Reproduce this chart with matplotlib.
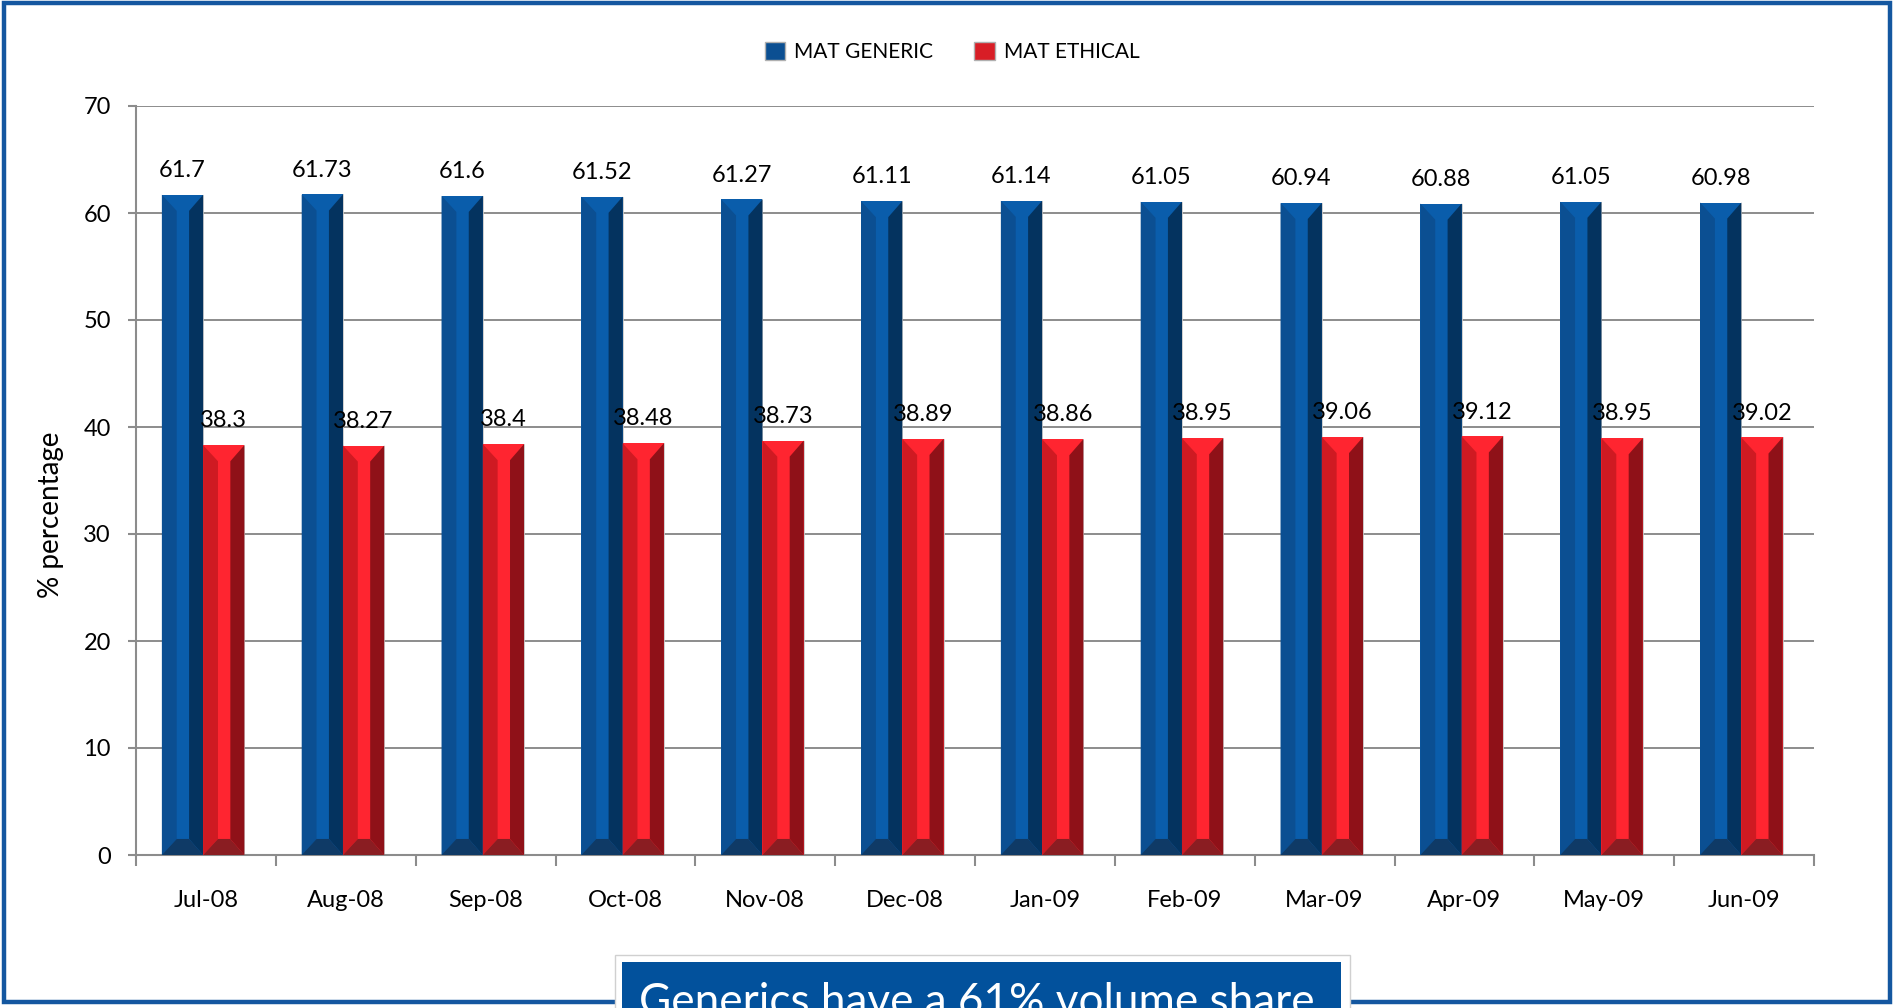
import matplotlib
matplotlib.use("Agg")
import matplotlib.pyplot as plt
from matplotlib.patches import Polygon, Rectangle, Patch
import numpy as np

months = ["Jul-08", "Aug-08", "Sep-08", "Oct-08", "Nov-08", "Dec-08",
          "Jan-09", "Feb-09", "Mar-09", "Apr-09", "May-09", "Jun-09"]
mat_generic = [61.7, 61.73, 61.6, 61.52, 61.27, 61.11, 61.14, 61.05, 60.94, 60.88, 61.05, 60.98]
mat_ethical = [38.3, 38.27, 38.4, 38.48, 38.73, 38.89, 38.86, 38.95, 39.06, 39.12, 38.95, 39.02]
generic_labels = ["61.7", "61.73", "61.6", "61.52", "61.27", "61.11",
                  "61.14", "61.05", "60.94", "60.88", "61.05", "60.98"]
ethical_labels = ["38.3", "38.27", "38.4", "38.48", "38.73", "38.89",
                  "38.86", "38.95", "39.06", "39.12", "38.95", "39.02"]
y_ticks = [0, 10, 20, 30, 40, 50, 60, 70]

FONT = ["Lato", "DejaVu Sans"]
plt.rcParams["font.family"] = FONT

W, H = 1894, 1008
fig = plt.figure(figsize=(W / 100, H / 100), dpi=100)
fig.patch.set_facecolor("white")

def fx(px):
    return px / W

def fy(py):
    return 1 - py / H

ax_left, ax_right, ax_top, ax_bottom = 136, 1814, 106, 855
ax = fig.add_axes([fx(ax_left), fy(ax_bottom), fx(ax_right - ax_left), (ax_bottom - ax_top) / H])

GRID = "#8c8c8c"
BLUE = dict(left="#0b4f92", mid="#0a5dab", right="#04335f", bottom="#0f3a66")
RED = dict(left="#cf1a22", mid="#ff2530", right="#8f1118", bottom="#8a1d22")

bar_w = 0.295
shift = -0.02   # small left offset of each bar pair
depth = 1.5     # bevel depth in data units


def bevel_bar(ax, x0, w, h, pal):
    a = x0 + 0.36 * w
    b = x0 + 0.66 * w
    x1 = x0 + w
    d = min(depth, h / 2)
    # body and top face
    ax.add_patch(Rectangle((x0, 0), w, h, facecolor=pal["mid"], edgecolor="none", zorder=3))
    # left face
    ax.add_patch(Polygon([(x0, 0), (x0, h), (a, h - d), (a, d)], closed=True,
                         facecolor=pal["left"], edgecolor="none", zorder=3))
    # right face
    ax.add_patch(Polygon([(x1, 0), (x1, h), (b, h - d), (b, d)], closed=True,
                         facecolor=pal["right"], edgecolor="none", zorder=3))
    # bottom face
    ax.add_patch(Polygon([(x0, 0), (x1, 0), (b, d), (a, d)], closed=True,
                         facecolor=pal["bottom"], edgecolor="none", zorder=3))
    # faint outline
    ax.add_patch(Rectangle((x0, 0), w, h, facecolor="none", edgecolor="#c8c8c8",
                           linewidth=0.6, zorder=2))


x = np.arange(len(months))
for i in range(len(months)):
    xb = x[i] + shift - bar_w
    xr = x[i] + shift
    bevel_bar(ax, xb, bar_w, mat_generic[i], BLUE)
    bevel_bar(ax, xr, bar_w, mat_ethical[i], RED)
    ax.annotate(generic_labels[i], (xb + bar_w / 2, mat_generic[i]), xytext=(0, 10),
                textcoords="offset points", ha="center", va="bottom", fontsize=17,
                color="black", zorder=5)
    ax.annotate(ethical_labels[i], (xr + bar_w / 2, mat_ethical[i]), xytext=(0, 10),
                textcoords="offset points", ha="center", va="bottom", fontsize=17,
                color="black", zorder=5)

ax.set_xlim(-0.5, len(months) - 0.5)
ax.set_ylim(0, 70)
ax.set_yticks(y_ticks)
ax.set_yticklabels([str(t) for t in y_ticks], fontsize=17)
ax.set_xticks(x)
ax.set_xticklabels(months, fontsize=17)
ax.set_xticks(np.arange(-0.5, len(months)), minor=True)
ax.tick_params(axis="x", which="major", length=0, pad=25)
ax.tick_params(axis="x", which="minor", length=8, width=1.5, color=GRID, direction="out")
ax.tick_params(axis="y", which="major", length=6, width=1.5, color=GRID, pad=12)
ax.grid(axis="y", color=GRID, linewidth=1.4, zorder=0)
ax.set_axisbelow(True)
for side in ("top", "right"):
    ax.spines[side].set_visible(False)
for side in ("left", "bottom"):
    ax.spines[side].set_color(GRID)
    ax.spines[side].set_linewidth(1.5)

fig.text(fx(51), fy(515), "% percentage", rotation=90, ha="center", va="center", fontsize=20)

handles = [Patch(facecolor=BLUE["left"], edgecolor="#b0b0b0", label="MAT GENERIC"),
           Patch(facecolor="#d81e26", edgecolor="#b0b0b0", label="MAT ETHICAL")]
fig.legend(handles=handles, loc="center", bbox_to_anchor=(fx(952), fy(52)), ncol=2,
           frameon=False, fontsize=15, handlelength=1.0, handleheight=1.0,
           handletextpad=0.4, columnspacing=2.0)

# outer frame
fig.patches.append(Rectangle((fx(4), fy(1002)), fx(1890 - 4), (1002 - 3) / H,
                             transform=fig.transFigure, facecolor="none",
                             edgecolor="#1457a0", linewidth=3.2, zorder=1))

# caption box at the bottom
fig.patches.append(Rectangle((fx(615), fy(1020)), fx(1350 - 615), (1020 - 955) / H,
                             transform=fig.transFigure, facecolor="white",
                             edgecolor="#d0d0d0", linewidth=1.0, zorder=2))
fig.patches.append(Rectangle((fx(622), fy(1020)), fx(1341 - 622), (1020 - 962) / H,
                             transform=fig.transFigure, facecolor="#02519c",
                             edgecolor="none", zorder=3))
caption = fig.text(fx(639), fy(982), "Generics have a 61% volume share", color="white",
                   fontsize=30, ha="left", va="top", zorder=4)

# size the caption to the box width
fig.canvas.draw()
bb = caption.get_window_extent()
caption.set_fontsize(30 * 676 / bb.width)

fig.savefig("out.png", dpi=100, facecolor="white")
